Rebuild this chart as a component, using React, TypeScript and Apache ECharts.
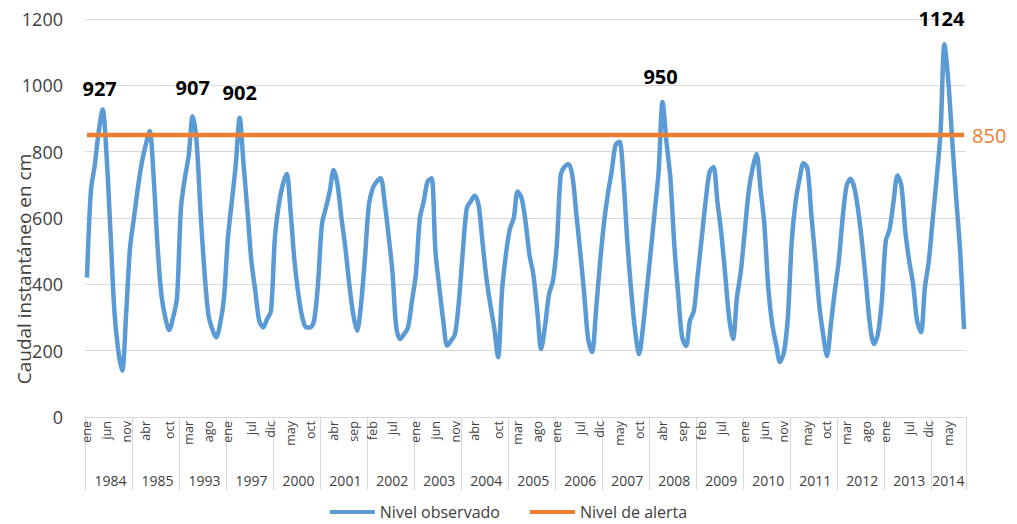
import React, { useEffect, useRef } from "react";
import * as echarts from "echarts";

const monthNames = ["ene", "feb", "mar", "abr", "may", "jun", "jul", "ago", "sep", "oct", "nov", "dic"];
const years = ["1984", "1985", "1993", "1997", "2000", "2001", "2002", "2003", "2004", "2005", "2006", "2007", "2008", "2009", "2010", "2011", "2012", "2013", "2014"];

// Nivel observado (cm), one value per month
const nivel1984 = [420, 680, 760, 860, 927, 790, 560, 320, 200, 140, 310, 510];
const nivel1985 = [600, 690, 766, 820, 862, 730, 520, 370, 300, 262, 300, 360];
const nivel1993 = [630, 720, 790, 907, 830, 620, 440, 310, 265, 240, 280, 360];
const nivel1997 = [540, 650, 760, 902, 760, 620, 470, 380, 290, 270, 295, 320];
const nivel2000 = [540, 640, 700, 733, 620, 470, 370, 300, 270, 270, 290, 400];
const nivel2001 = [580, 630, 680, 745, 700, 600, 510, 400, 310, 260, 340, 480];
const nivel2002 = [640, 690, 710, 720, 650, 550, 440, 270, 235, 250, 270, 350];
const nivel2003 = [430, 597, 650, 710, 720, 500, 390, 290, 215, 230, 250, 350];
const nivel2004 = [500, 630, 650, 667, 640, 530, 420, 340, 270, 180, 380, 490];
const nivel2005 = [567, 600, 680, 660, 590, 490, 430, 320, 205, 275, 370, 410];
const nivel2006 = [520, 730, 755, 763, 725, 610, 495, 370, 235, 196, 320, 460];
const nivel2007 = [580, 670, 740, 820, 830, 720, 530, 380, 260, 190, 270, 385];
const nivel2008 = [500, 620, 740, 950, 830, 720, 520, 370, 240, 214, 290, 320];
const nivel2009 = [430, 540, 650, 738, 754, 650, 555, 430, 300, 235, 360, 440];
const nivel2010 = [560, 680, 750, 793, 690, 580, 390, 280, 220, 166, 195, 300];
const nivel2011 = [530, 650, 718, 765, 750, 610, 480, 340, 250, 184, 280, 380];
const nivel2012 = [470, 600, 697, 718, 690, 620, 520, 400, 275, 220, 250, 350];
const nivel2013 = [530, 567, 650, 728, 697, 560, 470, 400, 290, 256, 390, 470];
const nivel2014 = [597, 720, 860, 1124, 1010, 830, 660, 500, 265];

const nivelPorAnio = [
  nivel1984, nivel1985, nivel1993, nivel1997, nivel2000, nivel2001, nivel2002,
  nivel2003, nivel2004, nivel2005, nivel2006, nivel2007, nivel2008, nivel2009,
  nivel2010, nivel2011, nivel2012, nivel2013, nivel2014,
];

// Month tick labels shown under each year
const monthTickLabels = [
  ["ene", "jun", "nov"], ["abr", "oct"], ["mar", "ago"], ["ene", "jul", "dic"],
  ["may", "oct"], ["abr", "sep"], ["feb", "jul"], ["ene", "jun", "nov"],
  ["abr", "oct"], ["mar", "ago"], ["ene", "jul", "dic"], ["may", "oct"],
  ["abr", "sep"], ["feb", "jul"], ["ene", "jun", "nov"], ["may", "oct"],
  ["mar", "ago"], ["ene", "jul", "dic"], ["may"],
];

const alertLevel = 850;

// Annotated peaks
const peakYears = ["1984", "1993", "1997", "2008", "2014"];
const peakMonths = ["may", "abr", "abr", "abr", "abr"];
const peakValues = [927, 907, 902, 950, 1124];
const peakLabelOffsets = [[-3, -6], [0, -14], [0, -10], [-2, -10], [-3, -11]];

const FONT = "'Open Sans', sans-serif";
const TEXT = "#404040";
const GRID = "#d9d9d9";
const BLUE = "#5b9bd5";
const ORANGE = "#ed7d31";

export default function App() {
  const ref = useRef<HTMLDivElement>(null);

  useEffect(() => {
    if (!ref.current) return;
    const chart = echarts.init(ref.current, undefined, { renderer: "svg" });

    const categories: string[] = [];
    const values: number[] = [];
    const yearStart = new Set<number>();
    const monthShown = new Set<number>();
    const yearMid = new Set<number>();
    nivelPorAnio.forEach((arr, yi) => {
      const start = categories.length;
      yearStart.add(start);
      yearMid.add(start + Math.floor(arr.length / 2));
      arr.forEach((v, m) => {
        categories.push(monthNames[m] + " " + years[yi]);
        values.push(v);
        if (monthTickLabels[yi].includes(monthNames[m])) monthShown.add(start + m);
      });
    });

    const option: any = {
      animation: false,
      textStyle: { fontFamily: FONT },
      grid: { left: 85, right: 51, top: 19, bottom: 107 },
      legend: {
        top: 499,
        left: "center",
        icon: "rect",
        itemWidth: 45,
        itemHeight: 4,
        itemGap: 30,
        textStyle: { fontSize: 16, color: TEXT, fontFamily: FONT },
        data: ["Nivel observado", "Nivel de alerta"],
      },
      xAxis: [
        {
          type: "category",
          data: categories,
          boundaryGap: true,
          axisLine: { lineStyle: { color: GRID, width: 1 } },
          axisTick: {
            show: true,
            interval: (idx: number) => yearStart.has(idx),
            length: 73,
            lineStyle: { color: GRID },
          },
          axisLabel: {
            interval: (idx: number) => monthShown.has(idx),
            formatter: (v: string) => v.split(" ")[0],
            rotate: 90,
            fontSize: 12.5,
            color: TEXT,
            margin: 4,
            fontFamily: FONT,
          },
          splitLine: { show: false },
        },
        {
          type: "category",
          data: categories,
          position: "bottom",
          offset: 48,
          boundaryGap: true,
          axisLine: { show: false },
          axisTick: { show: false },
          axisLabel: {
            interval: (idx: number) => yearMid.has(idx),
            formatter: (v: string) => v.split(" ")[1],
            fontSize: 14,
            color: TEXT,
            margin: 8,
            fontFamily: FONT,
          },
          splitLine: { show: false },
        },
      ],
      yAxis: {
        type: "value",
        min: 0,
        max: 1200,
        interval: 200,
        axisLine: { show: false },
        axisTick: { show: false },
        axisLabel: {
          fontSize: 18,
          color: TEXT,
          margin: 22,
          fontFamily: FONT,
          formatter: (v: number) => String(v),
        },
        splitLine: { lineStyle: { color: GRID, width: 1 } },
      },
      graphic: [
        {
          type: "text",
          x: 24,
          y: 269,
          rotation: Math.PI / 2,
          style: {
            text: "Caudal instantáneo en cm",
            fontSize: 19,
            fill: TEXT,
            fontFamily: FONT,
            align: "center",
            verticalAlign: "middle",
          },
        },
      ],
      series: [
        {
          name: "Nivel observado",
          type: "line",
          data: values,
          symbol: "none",
          smooth: 0.3,
          lineStyle: { color: BLUE, width: 4.5 },
          itemStyle: { color: BLUE },
          markPoint: {
            symbol: "circle",
            symbolSize: 0,
            label: {
              show: true,
              position: "top",
              formatter: "{c}",
              fontSize: 20,
              fontWeight: "bold",
              color: "#000",
              fontFamily: FONT,
            },
            data: peakValues.map((v, i) => ({
              coord: [peakMonths[i] + " " + peakYears[i], v],
              value: v,
              label: { offset: peakLabelOffsets[i] },
            })),
          },
        },
        {
          name: "Nivel de alerta",
          type: "line",
          data: categories.map(() => alertLevel),
          symbol: "none",
          lineStyle: { color: ORANGE, width: 4.5 },
          itemStyle: { color: ORANGE },
          endLabel: {
            show: true,
            formatter: () => String(alertLevel),
            color: ORANGE,
            fontSize: 20,
            distance: 8,
            fontFamily: FONT,
          },
        },
      ],
    };

    chart.setOption(option);
    return () => chart.dispose();
  }, []);

  return (
    <div
      ref={ref}
      style={{ position: "absolute", left: 0, top: 0, width: 1017, height: 524 }}
    />
  );
}
